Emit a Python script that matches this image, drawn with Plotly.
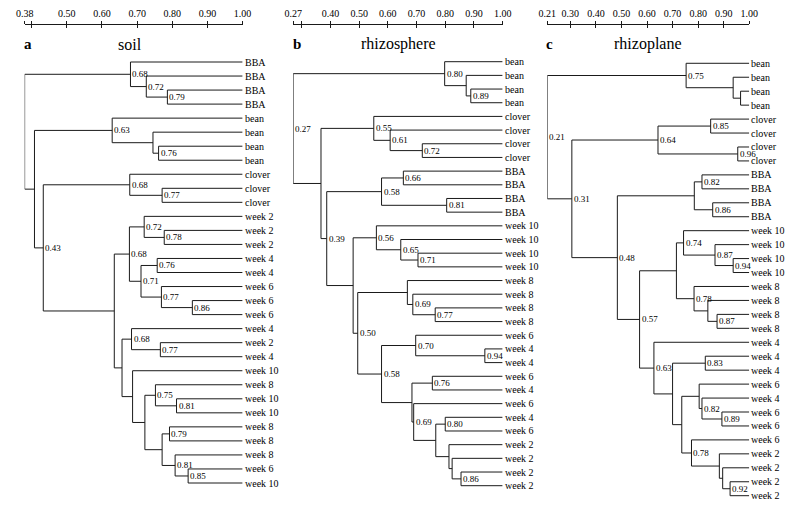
import plotly.graph_objects as go

W, H = 800, 511

# ---------------- data ----------------
panel_titles = ["soil", "rhizosphere", "rhizoplane"]
panel_letters = ["a", "b", "c"]

soil_leaves = ["BBA", "BBA", "BBA", "BBA", "bean", "bean", "bean", "bean",
               "clover", "clover", "clover", "week 2", "week 2", "week 2",
               "week 4", "week 4", "week 6", "week 6", "week 6", "week 4",
               "week 2", "week 4", "week 10", "week 8", "week 10", "week 10",
               "week 8", "week 8", "week 8", "week 6", "week 10"]
# merges: (left, right, similarity, printed value); int = leaf index, "mK" = K-th merge
soil_merges = [
    (2, 3, 0.786, "0.79"),
    (1, "m0", 0.726, "0.72"),
    (0, "m1", 0.681, "0.68"),
    (6, 7, 0.761, "0.76"),
    (5, "m3", 0.745, None),
    (4, "m4", 0.629, "0.63"),
    (9, 10, 0.771, "0.77"),
    (8, "m6", 0.679, "0.68"),
    (12, 13, 0.777, "0.78"),
    (11, "m8", 0.720, "0.72"),
    (14, 15, 0.757, "0.76"),
    (17, 18, 0.857, "0.86"),
    (16, "m11", 0.769, "0.77"),
    ("m10", "m12", 0.711, "0.71"),
    ("m9", "m13", 0.678, "0.68"),
    (20, 21, 0.766, "0.77"),
    (19, "m15", 0.684, "0.68"),
    (24, 25, 0.812, "0.81"),
    (23, "m17", 0.752, "0.75"),
    (26, 27, 0.792, "0.79"),
    (29, 30, 0.845, "0.85"),
    (28, "m20", 0.808, "0.81"),
    ("m19", "m21", 0.771, None),
    ("m18", "m22", 0.722, None),
    (22, "m23", 0.687, None),
    ("m16", "m24", 0.657, None),
    ("m14", "m25", 0.635, None),
    ("m7", "m26", 0.433, "0.43"),
    ("m5", "m27", 0.408, None),
    ("m2", "m28", 0.380, None),
]

rhizosphere_leaves = ["bean", "bean", "bean", "bean", "clover", "clover", "clover", "clover",
                      "BBA", "BBA", "BBA", "BBA", "week 10", "week 10", "week 10", "week 10",
                      "week 8", "week 8", "week 8", "week 8", "week 6", "week 4", "week 4",
                      "week 6", "week 4", "week 6", "week 4", "week 6",
                      "week 2", "week 2", "week 2", "week 2"]
rhizosphere_merges = [
    (2, 3, 0.889, "0.89"),
    (1, "m0", 0.873, None),
    (0, "m1", 0.798, "0.80"),
    (6, 7, 0.720, "0.72"),
    (5, "m3", 0.608, "0.61"),
    (4, "m4", 0.551, "0.55"),
    (8, 9, 0.654, "0.66"),
    (10, 11, 0.805, "0.81"),
    ("m6", "m7", 0.578, "0.58"),
    (14, 15, 0.705, "0.71"),
    (13, "m9", 0.645, "0.65"),
    (12, "m10", 0.560, "0.56"),
    (18, 19, 0.765, "0.77"),
    (17, "m12", 0.687, "0.69"),
    (16, "m13", 0.668, None),
    (21, 22, 0.938, "0.94"),
    (20, "m15", 0.697, "0.70"),
    (23, 24, 0.755, "0.76"),
    (26, 27, 0.800, "0.80"),
    (30, 31, 0.855, "0.86"),
    (29, "m19", 0.824, None),
    (28, "m20", 0.813, None),
    ("m18", "m21", 0.767, None),
    (25, "m22", 0.690, "0.69"),
    ("m17", "m23", 0.684, None),
    ("m16", "m24", 0.578, "0.58"),
    ("m14", "m25", 0.495, "0.50"),
    ("m11", "m26", 0.479, None),
    ("m8", "m27", 0.387, "0.39"),
    ("m5", "m28", 0.367, None),
    ("m2", "m29", 0.270, "0.27"),
]

rhizoplane_leaves = ["bean", "bean", "bean", "bean", "clover", "clover", "clover", "clover",
                     "BBA", "BBA", "BBA", "BBA", "week 10", "week 10", "week 10", "week 10",
                     "week 8", "week 8", "week 8", "week 8", "week 4", "week 4", "week 4",
                     "week 6", "week 4", "week 6", "week 6", "week 6",
                     "week 2", "week 2", "week 2", "week 2"]
rhizoplane_merges = [
    (2, 3, 0.966, None),
    (1, "m0", 0.937, None),
    (0, "m1", 0.753, "0.75"),
    (4, 5, 0.849, "0.85"),
    (6, 7, 0.955, "0.96"),
    ("m3", "m4", 0.643, "0.64"),
    (8, 9, 0.815, "0.82"),
    (10, 11, 0.857, "0.86"),
    ("m6", "m7", 0.785, None),
    (14, 15, 0.937, "0.94"),
    (13, "m9", 0.866, "0.87"),
    (12, "m10", 0.743, "0.74"),
    (18, 19, 0.874, "0.87"),
    (17, "m12", 0.838, None),
    (16, "m13", 0.784, "0.78"),
    ("m11", "m14", 0.715, None),
    (21, 22, 0.828, "0.83"),
    (25, 26, 0.893, "0.89"),
    (24, "m17", 0.815, "0.82"),
    (23, "m18", 0.804, None),
    (30, 31, 0.925, "0.92"),
    (29, "m20", 0.896, None),
    (28, "m21", 0.883, None),
    (27, "m22", 0.774, "0.78"),
    ("m19", "m23", 0.736, None),
    ("m16", "m24", 0.700, None),
    (20, "m25", 0.627, "0.63"),
    ("m15", "m26", 0.571, "0.57"),
    ("m8", "m27", 0.484, "0.48"),
    ("m5", "m28", 0.306, "0.31"),
    ("m2", "m29", 0.210, "0.21"),
]

axis_min = [0.38, 0.27, 0.21]
tick_vals = [
    [0.38, 0.40, 0.50, 0.60, 0.70, 0.80, 0.90, 1.00],
    [0.27, 0.30, 0.40, 0.50, 0.60, 0.70, 0.80, 0.90, 1.00],
    [0.21, 0.30, 0.40, 0.50, 0.60, 0.70, 0.80, 0.90, 1.00],
]
tick_text = [
    ["0.38", "", "0.50", "0.60", "0.70", "0.80", "0.90", "1.00"],
    ["0.27", "", "0.40", "0.50", "0.60", "0.70", "0.80", "0.90", "1.00"],
    ["0.21", "0.30", "0.40", "0.50", "0.60", "0.70", "0.80", "0.90", "1.00"],
]

# ---------------- layout geometry (pixels) ----------------
x_px = [(16, 239), (290.7, 505), (550.7, 757.3)]        # axis_min -> 1.00
leaf_px = [(62, 483), (61.7, 485.7), (63.3, 495.7)]      # first leaf -> last leaf
axis_y_px = 24
title_x_px = [124, 398, 654]
letter_x_px = [19, 295, 553]
title_y_px = 44

FONT = "Liberation Serif"
LINE = "#1a1a1a"

panels = [
    (soil_leaves, soil_merges),
    (rhizosphere_leaves, rhizosphere_merges),
    (rhizoplane_leaves, rhizoplane_merges),
]


def tree_paths(leaves, merges):
    pos = {i: (1.0, i) for i in range(len(leaves))}
    px, py, nodes = [], [], []
    for k, (a, b, s, lab) in enumerate(merges):
        xa, ya = pos[a]
        xb, yb = pos[b]
        px += [xa, s, s, xb, None]
        py += [ya, ya, yb, yb, None]
        ym = (ya + yb) / 2.0
        pos["m%d" % k] = (s, ym)
        if lab:
            nodes.append((s, ym, lab))
    return px, py, nodes


fig = go.Figure()
layout = dict(
    width=W, height=H, margin=dict(l=0, r=0, t=0, b=0),
    paper_bgcolor="white", plot_bgcolor="white", showlegend=False,
    annotations=[],
)

for i, (leaves, merges) in enumerate(panels):
    n = len(leaves)
    xa = "x" if i == 0 else "x%d" % (i + 1)
    ya = "y" if i == 0 else "y%d" % (i + 1)
    xov = "x%d" % (i + 4)
    px, py, nodes = tree_paths(leaves, merges)

    fig.add_trace(go.Scatter(x=px, y=py, mode="lines", xaxis=xa, yaxis=ya,
                             line=dict(color=LINE, width=1), hoverinfo="skip"))
    # dummy trace to activate the overlay axis (for ticks below the line)
    fig.add_trace(go.Scatter(x=[axis_min[i]], y=[0], mode="markers", xaxis=xov, yaxis=ya,
                             marker=dict(opacity=0), hoverinfo="skip"))

    for j, lab in enumerate(leaves):
        layout["annotations"].append(dict(
            x=1.0, y=j, xref=xa, yref=ya, text=lab, showarrow=False,
            xanchor="left", yanchor="middle", xshift=1, borderpad=0,
            font=dict(family=FONT, size=10, color="black")))
    for (nx, ny, lab) in nodes:
        layout["annotations"].append(dict(
            x=nx, y=ny, xref=xa, yref=ya, text=lab, showarrow=False,
            xanchor="left", yanchor="middle", xshift=1, borderpad=0,
            font=dict(family=FONT, size=9, color="black")))

    x0, x1 = x_px[i]
    t0, t1 = leaf_px[i]
    sp = (t1 - t0) / (n - 1)
    top, bot = t0 - sp / 2, t1 + sp / 2
    xdom = [x0 / W, x1 / W]
    ydom = [1 - bot / H, 1 - top / H]
    pos_axis = 1 - axis_y_px / H

    xkey = "xaxis" if i == 0 else "xaxis%d" % (i + 1)
    ykey = "yaxis" if i == 0 else "yaxis%d" % (i + 1)
    layout[xkey] = dict(domain=xdom, range=[axis_min[i], 1.0], anchor="free",
                        position=pos_axis, side="top", showline=True, linecolor=LINE,
                        linewidth=1, ticks="outside", ticklen=3, tickcolor=LINE,
                        tickwidth=1, tickvals=tick_vals[i], ticktext=tick_text[i],
                        tickfont=dict(family=FONT, size=10, color="black"),
                        showgrid=False, zeroline=False, fixedrange=True)
    layout[ykey] = dict(domain=ydom, range=[n - 1 + 0.5, -0.5], visible=False,
                        showgrid=False, zeroline=False, fixedrange=True)
    layout["xaxis%d" % (i + 4)] = dict(overlaying=xa, range=[axis_min[i], 1.0],
                                       anchor="free", position=pos_axis, side="top",
                                       showline=False, ticks="inside", ticklen=3,
                                       tickcolor=LINE, tickwidth=1, tickvals=tick_vals[i],
                                       showticklabels=False, showgrid=False,
                                       zeroline=False, fixedrange=True)

    layout["annotations"].append(dict(x=title_x_px[i] / W, y=1 - title_y_px / H,
                                      xref="paper", yref="paper", text=panel_titles[i],
                                      showarrow=False, xanchor="center", yanchor="middle",
                                      font=dict(family=FONT, size=16, color="black")))
    layout["annotations"].append(dict(x=letter_x_px[i] / W, y=1 - title_y_px / H,
                                      xref="paper", yref="paper",
                                      text="<b>%s</b>" % panel_letters[i],
                                      showarrow=False, xanchor="center", yanchor="middle",
                                      font=dict(family=FONT, size=15, color="black")))

fig.update_layout(**layout)
fig.write_html("out.html", config={"displayModeBar": False},
               post_script="document.body.style.margin='0';document.body.style.overflow='hidden';")
